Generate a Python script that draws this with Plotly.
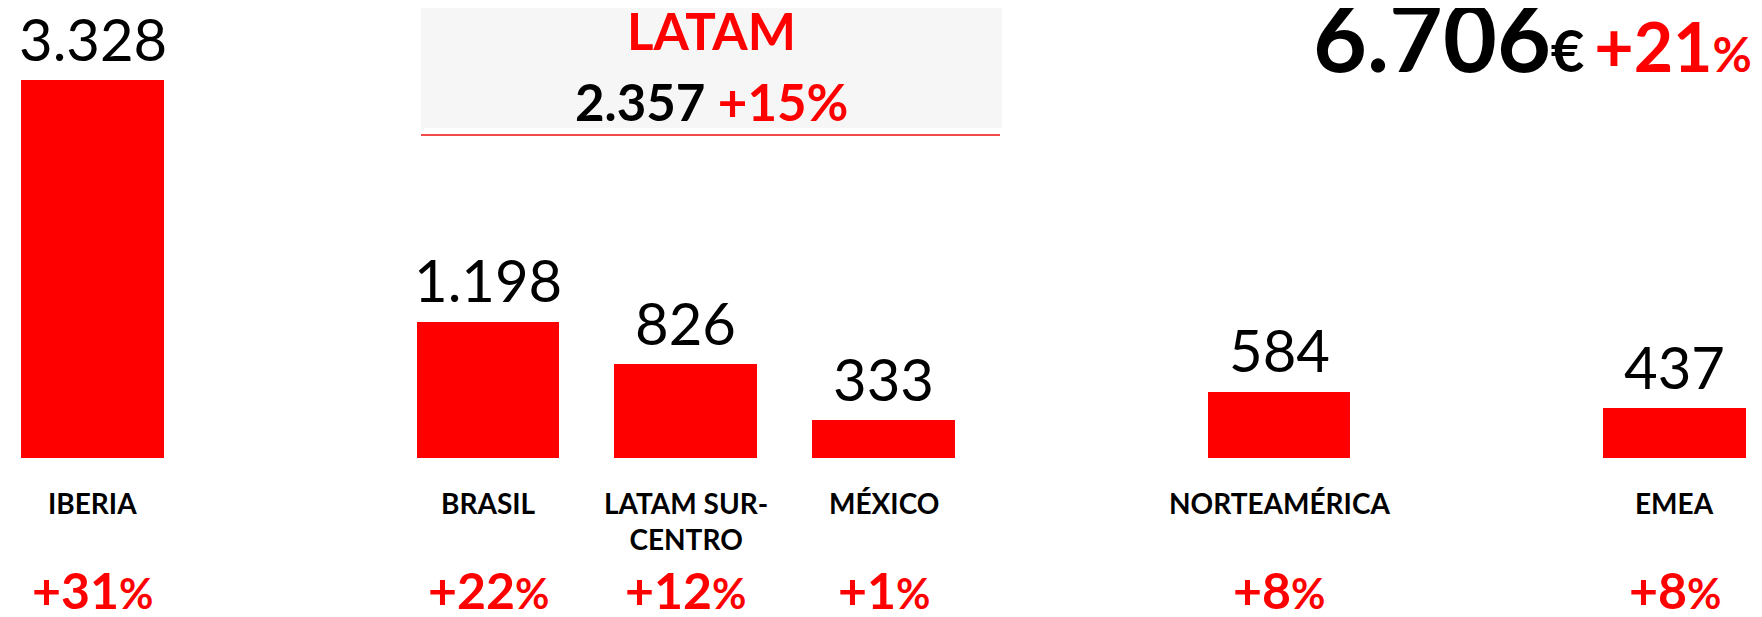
import plotly.graph_objects as go

# ---- data ----
categories = ["IBERIA", "BRASIL", "LATAM SUR-CENTRO", "MÉXICO", "NORTEAMÉRICA", "EMEA"]
display_labels = ["IBERIA", "BRASIL", "LATAM SUR-<br>CENTRO", "MÉXICO", "NORTEAMÉRICA", "EMEA"]
values = [3328, 1198, 826, 333, 584, 437]
growth = ["+31", "+22", "+12", "+1", "+8", "+8"]
latam_members = ["BRASIL", "LATAM SUR-CENTRO", "MÉXICO"]
latam_growth = "+15"
total_growth = "+21"

# layout: category order with blank spacers
category_order = ["IBERIA", " ", "BRASIL", "LATAM SUR-CENTRO", "MÉXICO", "  ", "NORTEAMÉRICA", "   ", "EMEA"]

RED = "#FF0000"
FONT = "Lato"
W, H = 1762, 617
OFF = 8  # page body margin


def fmt(v):
    return f"{v:,}".replace(",", ".")


def px(x):
    return (x - OFF) / W


def py(y):
    return 1 - (y - OFF) / H


latam_total = sum(v for c, v in zip(categories, values) if c in latam_members)
grand_total = sum(values)

fig = go.Figure()
fig.add_trace(go.Bar(
    x=categories, y=values, marker=dict(color=RED, line=dict(width=0)),
    width=0.723, hoverinfo="skip", showlegend=False,
))

annotations = []
for c, lab, v, g in zip(categories, display_labels, values, growth):
    annotations.append(dict(x=c, y=v, xref="x", yref="y", text=fmt(v), showarrow=False,
                            yanchor="middle", yshift=42,
                            font=dict(family=FONT, size=58, color="black")))
    annotations.append(dict(x=c, y=0, xref="x", yref="y", text=f"<b>{lab}</b>", showarrow=False,
                            yanchor="top", yshift=-26,
                            font=dict(family=FONT, size=28, color="black")))
    annotations.append(dict(x=c, y=0, xref="x", yref="y",
                            text=f"<b>{g}<span style='font-size:42px'>%</span></b>", showarrow=False,
                            yanchor="middle", yshift=-132,
                            font=dict(family=FONT, size=50, color=RED)))

# LATAM header
annotations.append(dict(x=px(711), y=py(31), xref="paper", yref="paper", text="<b>LATAM</b>",
                        showarrow=False, yanchor="middle", xanchor="center",
                        font=dict(family=FONT, size=51, color=RED)))
annotations.append(dict(x=px(711), y=py(102), xref="paper", yref="paper",
                        text=f"<b>{fmt(latam_total)} <span style='color:{RED}'>{latam_growth}%</span></b>",
                        showarrow=False, yanchor="middle", xanchor="center",
                        font=dict(family=FONT, size=51, color="black")))
# grand total
annotations.append(dict(x=px(1754), y=py(36), xref="paper", yref="paper",
                        text=(f"<b>{fmt(grand_total)}<span style='font-size:58px'>€</span>"
                              f"<span style='font-size:40px'> </span>"
                              f"<span style='color:{RED};font-size:68px'>{total_growth}"
                              f"<span style='font-size:48px'>%</span></span></b>"),
                        showarrow=False, yanchor="middle", xanchor="right",
                        font=dict(family=FONT, size=93, color="black")))

shapes = [
    dict(type="rect", xref="paper", yref="paper", x0=px(421), x1=px(1002),
         y0=py(128), y1=1.0, fillcolor="#F6F6F6", line=dict(width=0), layer="below"),
    dict(type="line", xref="paper", yref="paper", x0=px(421), x1=px(1000),
         y0=py(135), y1=py(135), line=dict(color="#F24A4A", width=2)),
]

unit = 197.75           # px per category slot
x_first = 92.5 - OFF    # px of first category centre inside figure
base = 458 - OFF        # px of bar baseline inside figure
vpp = 3328 / 378        # value units per pixel

fig.update_layout(
    width=W, height=H, margin=dict(l=0, r=0, t=0, b=0),
    paper_bgcolor="white", plot_bgcolor="white",
    xaxis=dict(type="category", categoryorder="array", categoryarray=category_order,
               range=[-x_first / unit, (W - x_first) / unit], visible=False, fixedrange=True),
    yaxis=dict(range=[-(H - base) * vpp, base * vpp], visible=False, fixedrange=True),
    annotations=annotations, shapes=shapes, bargap=0,
)

fig.write_html("out.html")
